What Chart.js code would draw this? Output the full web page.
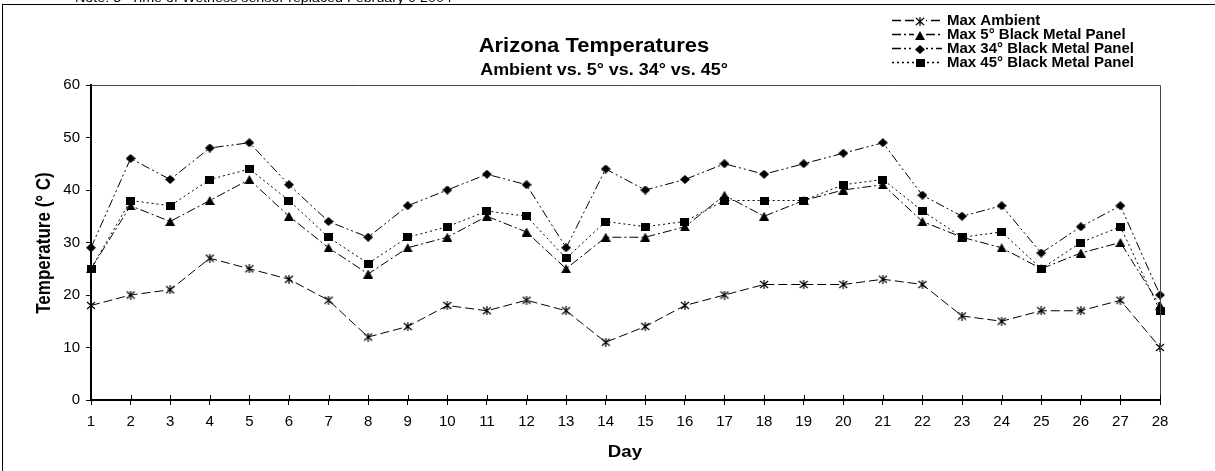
<!DOCTYPE html>
<html>
<head>
<meta charset="utf-8">
<script src="https://cdn.jsdelivr.net/npm/chart.js@4.4.0/dist/chart.umd.min.js"></script>
<style>
  body { margin: 0; background: #fff; }
  canvas { display: block; }
</style>
</head>
<body>
<canvas id="tempChart" width="1215" height="471"></canvas>
<script>
const days = ['1','2','3','4','5','6','7','8','9','10','11','12','13','14','15','16','17','18','19','20','21','22','23','24','25','26','27','28'];

const maxAmbient = [18,20,21,27,25,23,19,12,14,18,17,19,17,11,14,18,20,22,22,22,23,22,16,15,17,17,19,10];
const max5 = [25,37,34,38,42,35,29,24,29,31,35,32,25,31,31,33,39,35,38,40,41,34,31,29,25,28,30,18];
const max34 = [29,46,42,48,49,41,34,31,37,40,43,41,29,44,40,42,45,43,45,47,49,39,35,37,28,33,37,20];
const max45 = [25,38,37,42,44,38,31,26,31,33,36,35,27,34,33,34,38,38,38,41,42,36,31,32,25,30,33,17];

const yTicks = [0, 10, 20, 30, 40, 50, 60];

const FONT = 'Arial, "Liberation Sans", sans-serif';

// small canvases used as point markers
function makeMarker(kind) {
  const c = document.createElement('canvas');
  const w = kind === 'rect' ? 9 : 10;
  const h = kind === 'rect' ? 8 : 9;
  c.width = w; c.height = h;
  const g = c.getContext('2d');
  g.fillStyle = '#000';
  g.strokeStyle = '#000';
  g.lineWidth = 1.2;
  if (kind === 'star') {
    g.beginPath();
    g.moveTo(1, 1); g.lineTo(w - 1, h - 1);
    g.moveTo(w - 1, 1); g.lineTo(1, h - 1);
    g.moveTo(w / 2, 0); g.lineTo(w / 2, h);
    g.stroke();
  } else if (kind === 'triangle') {
    g.beginPath();
    g.moveTo(w / 2, 0); g.lineTo(w, h); g.lineTo(0, h);
    g.closePath(); g.fill();
  } else if (kind === 'diamond') {
    g.beginPath();
    g.moveTo(w / 2, 0); g.lineTo(w, h / 2); g.lineTo(w / 2, h); g.lineTo(0, h / 2);
    g.closePath(); g.fill();
  } else {
    g.fillRect(0, 0, w, h);
  }
  return c;
}

const markers = {
  star: makeMarker('star'),
  triangle: makeMarker('triangle'),
  diamond: makeMarker('diamond'),
  rect: makeMarker('rect'),
};

function drawText(ctx, text, x, y, font, align, sx, rotate) {
  ctx.save();
  ctx.font = font;
  ctx.fillStyle = '#000';
  ctx.textAlign = align;
  ctx.textBaseline = 'middle';
  ctx.translate(x, y);
  if (rotate) {
    ctx.rotate(-Math.PI / 2);
    ctx.scale(1, sx);
  } else {
    ctx.scale(sx, 1);
  }
  ctx.fillText(text, 0, 0);
  ctx.restore();
}

const decorations = {
  id: 'decorations',
  afterDraw(chart) {
    const ctx = chart.ctx;
    const area = chart.chartArea;
    const xs = chart.scales.x;

    // outer frame (cut off at right and bottom)
    ctx.save();
    ctx.strokeStyle = '#000';
    ctx.lineWidth = 1;
    ctx.strokeRect(2.5, 4.5, 1400, 600);

    // plot border top / right
    ctx.strokeStyle = '#444';
    ctx.beginPath();
    ctx.moveTo(area.left, area.top + 0.5);
    ctx.lineTo(area.right + 0.5, area.top + 0.5);
    ctx.lineTo(area.right + 0.5, area.bottom);
    ctx.stroke();

    // x ticks cross the axis
    ctx.strokeStyle = '#000';
    ctx.beginPath();
    for (let i = 0; i < days.length; i++) {
      const x = Math.round(xs.getPixelForTick(i)) + 0.5;
      ctx.moveTo(x, area.bottom - 5);
      ctx.lineTo(x, area.bottom);
    }
    ctx.stroke();
    ctx.restore();

    // partly hidden note at the very top
    ctx.save();
    ctx.font = '13px ' + FONT;
    ctx.fillStyle = '#000';
    ctx.textBaseline = 'alphabetic';
    ctx.translate(75, 2);
    ctx.scale(1.1, 1);
    ctx.fillText('Note: 5° Time of Wetness sensor replaced February 9 2004', 0, 0);
    ctx.restore();

    // titles
    drawText(ctx, 'Arizona Temperatures', 594, 46, 'bold 20px ' + FONT, 'center', 1.1);
    drawText(ctx, 'Ambient vs. 5° vs. 34° vs. 45°', 604, 71, 'bold 16px ' + FONT, 'center', 1.12);
    drawText(ctx, 'Temperature (° C)', 45, 243, 'bold 17px ' + FONT, 'center', 1.15, true);
    drawText(ctx, 'Day', 625, 452, 'bold 17px ' + FONT, 'center', 1.1);

    // legend
    const rows = [20, 34, 48, 62];
    chart.data.datasets.forEach((ds, i) => {
      const y = rows[i];
      ctx.save();
      ctx.strokeStyle = '#000';
      ctx.lineWidth = 1.5;
      ctx.setLineDash(ds.borderDash);
      ctx.beginPath();
      ctx.moveTo(892, y + 0.5);
      ctx.lineTo(942, y + 0.5);
      ctx.stroke();
      const m = ds.pointStyle;
      ctx.fillStyle = '#fff';
      ctx.fillRect(914, y - 5, 12, 11);
      ctx.drawImage(m, Math.round(920 - m.width / 2), Math.round(y - m.height / 2) + 1);
      ctx.restore();
      drawText(ctx, ds.label, 947, y + 1, 'bold 15px ' + FONT, 'left', 1);
    });
  }
};

function series(label, data, dash, marker) {
  return {
    label: label,
    data: data,
    borderColor: '#000',
    backgroundColor: '#000',
    borderWidth: 1,
    borderDash: dash,
    pointStyle: marker,
    pointRadius: 5,
    pointHoverRadius: 5,
    tension: 0,
    fill: false,
    clip: false,
  };
}

new Chart(document.getElementById('tempChart'), {
  type: 'line',
  data: {
    labels: days,
    datasets: [
      series('Max Ambient', maxAmbient, [9, 4], markers.star),
      series('Max 5° Black Metal Panel', max5, [9, 3, 2, 3], markers.triangle),
      series('Max 34° Black Metal Panel', max34, [9, 3, 2, 3, 2, 3], markers.diamond),
      series('Max 45° Black Metal Panel', max45, [2, 3], markers.rect),
    ]
  },
  options: {
    responsive: false,
    animation: false,
    events: [],
    layout: { padding: { top: 85, right: 55, left: 0, bottom: 0 } },
    plugins: {
      legend: { display: false },
      title: { display: false },
      tooltip: { enabled: false },
    },
    scales: {
      x: {
        type: 'category',
        offset: false,
        afterFit(scale) { scale.height = 71; },
        grid: { drawOnChartArea: false, tickLength: 5, color: '#000', lineWidth: 1 },
        border: { color: '#000', width: 2 },
        ticks: {
          color: '#000',
          font: { family: FONT, size: 15 },
          padding: 8,
          maxRotation: 0,
          autoSkip: false,
        },
      },
      y: {
        min: 0,
        max: 60,
        afterFit(scale) { scale.width = 91; },
        afterBuildTicks(scale) { scale.ticks = yTicks.map(v => ({ value: v })); },
        grid: { drawOnChartArea: false, tickLength: 5, color: '#000', lineWidth: 1 },
        border: { color: '#000', width: 2 },
        ticks: {
          color: '#000',
          font: { family: FONT, size: 15 },
          padding: 6,
        },
      },
    },
  },
  plugins: [decorations],
});
</script>
</body>
</html>
